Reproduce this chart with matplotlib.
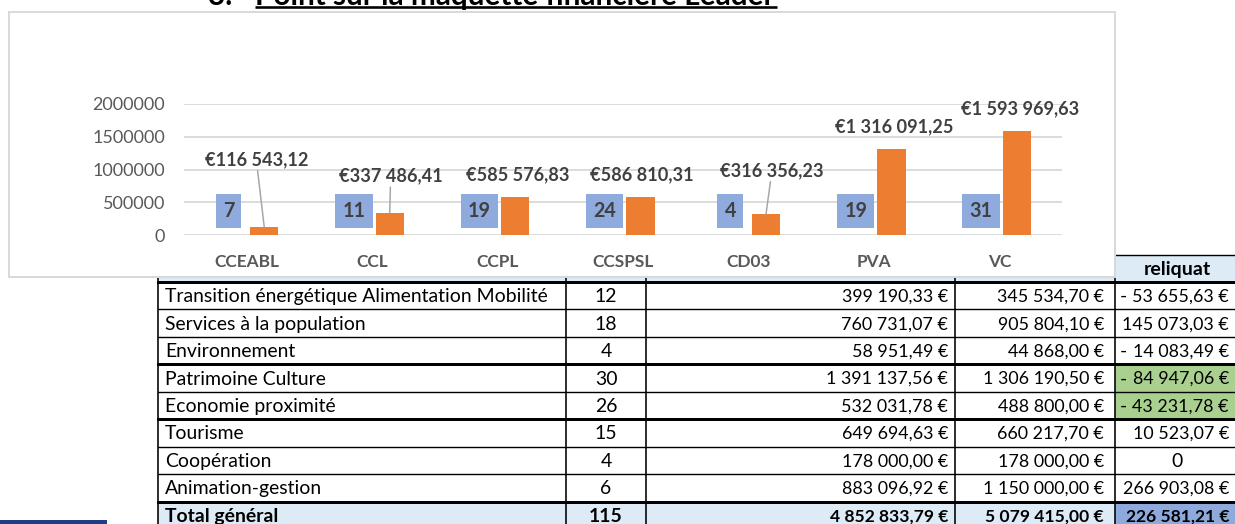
import matplotlib
matplotlib.use("Agg")
import matplotlib.pyplot as plt
from matplotlib.patches import Rectangle
import numpy as np

# ---------------- data ----------------
communautes = ["CCEABL", "CCL", "CCPL", "CCSPSL", "CD03", "PVA", "VC"]
nb_projets = [7, 11, 19, 24, 4, 19, 31]
montants = [116543.12, 337486.41, 585576.83, 586810.31, 316356.23, 1316091.25, 1593969.63]
y_ticks = [0, 500000, 1000000, 1500000, 2000000]

themes = ["Transition énergétique Alimentation Mobilité", "Services à la population",
          "Environnement", "Patrimoine Culture", "Economie proximité", "Tourisme",
          "Coopération", "Animation-gestion"]
nb_dossiers = [12, 18, 4, 30, 26, 15, 4, 6]
montant_programme = [399190.33, 760731.07, 58951.49, 1391137.56, 532031.78,
                     649694.63, 178000.00, 883096.92]
maquette = [345534.70, 905804.10, 44868.00, 1306190.50, 488800.00,
            660217.70, 178000.00, 1150000.00]
reliquat = [-53655.63, 145073.03, -14083.49, -84947.06, -43231.78,
            10523.07, 0, 266903.08]
total_label = "Total général"
total_nb = 115
total_programme = 4852833.79
total_maquette = 5079415.00
total_reliquat = 226581.21
header_reliquat = "reliquat"
title_num = "3."
title_text = "Point sur la maquette financière Leader"

# ---------------- style ----------------
plt.rcParams['font.family'] = ['Lato', 'DejaVu Sans']
W, H = 1235, 524
PX = 0.72  # points per pixel at 100 dpi

fig = plt.figure(figsize=(W / 100, H / 100), dpi=100)
renderer = fig.canvas.get_renderer()


def fit_size(text, target_px, **kw):
    t = fig.text(0, 0, text, fontsize=10, **kw)
    w = t.get_window_extent(renderer=renderer).width
    t.remove()
    return 10 * target_px / w


def fr(v):
    s = f"{v:,.2f}".replace(",", " ").replace(".", ",")
    return s + " €"


bg = fig.add_axes([0, 0, 1, 1])
bg.set_xlim(0, W)
bg.set_ylim(H, 0)
bg.axis('off')

# ---------------- title (cut at top) ----------------
fs_title = fit_size(title_text, 522, fontweight='bold')
bg.text(255, 5, title_text, fontsize=fs_title, fontweight='bold', va='baseline',
        ha='left', color='black')
bg.text(208, 5, title_num, fontsize=fs_title, fontweight='bold', va='baseline',
        ha='left', color='black')
bg.plot([255, 777], [7.3, 7.3], color='black', lw=2.6 * PX, solid_capstyle='butt')

# ---------------- table ----------------
col_edges = [158, 566, 646, 955, 1115, 1240]
header_top = 255
row_top = 282
row_h = 27.45
n_rows = len(themes) + 1
row_edges = [row_top + i * row_h for i in range(n_rows + 1)]
light_blue = '#DDEBF7'
green = '#A9D08E'
blue_total = '#8EA9DB'

bg.add_patch(Rectangle((col_edges[0], header_top), col_edges[-1] - col_edges[0],
                       row_top - header_top, fc=light_blue, ec='none', zorder=1))
tot_y = row_edges[-2]
bg.add_patch(Rectangle((col_edges[0], tot_y), col_edges[-1] - col_edges[0],
                       row_h, fc=light_blue, ec='none', zorder=1))
bg.add_patch(Rectangle((col_edges[4], tot_y), col_edges[5] - col_edges[4],
                       row_h, fc=blue_total, ec='none', zorder=1.1))
for i in (3, 4):
    bg.add_patch(Rectangle((col_edges[4], row_edges[i]), col_edges[5] - col_edges[4],
                           row_h, fc=green, ec='none', zorder=1.1))

thick_rows = {0, 3, 5, 8}
bg.plot([col_edges[0], col_edges[-1]], [header_top] * 2, color='black', lw=1.4 * PX, zorder=2)
for i, y in enumerate(row_edges[:-1]):
    lw = 3.0 if i in thick_rows else 1.4
    bg.plot([col_edges[0], col_edges[-1]], [y, y], color='black', lw=lw * PX, zorder=2)
for x in col_edges:
    bg.plot([x, x], [header_top, H + 10], color='black', lw=1.6 * PX, zorder=2)

fs_tab = fit_size(themes[0], 385)
fs_num = fit_size("399 190,33 €", 106)
fs_num_b = fit_size("4 852 833,79 €", 118, fontweight='bold')
for i in range(len(themes)):
    yc = row_edges[i] + row_h / 2 + 1
    bg.text(col_edges[0] + 7, yc, themes[i], fontsize=fs_tab, va='center', ha='left', zorder=3)
    bg.text((col_edges[1] + col_edges[2]) / 2, yc, str(nb_dossiers[i]), fontsize=fs_tab,
            va='center', ha='center', zorder=3)
    bg.text(col_edges[3] - 7, yc, fr(montant_programme[i]), fontsize=fs_num,
            va='center', ha='right', zorder=3)
    bg.text(col_edges[4] - 11, yc, fr(maquette[i]), fontsize=fs_num,
            va='center', ha='right', zorder=3)
    r = reliquat[i]
    if r == 0:
        bg.text((col_edges[4] + col_edges[5]) / 2, yc, "0", fontsize=fs_tab,
                va='center', ha='center', zorder=3)
    else:
        if r < 0:
            bg.text(col_edges[4] + 5, yc, "-", fontsize=fs_tab, va='center', ha='left', zorder=3)
        bg.text(col_edges[5] - 11, yc, fr(abs(r)), fontsize=fs_num,
                va='center', ha='right', zorder=3)

yc = tot_y + row_h / 2 + 1
bkw = dict(fontweight='bold', va='center', zorder=3)
bg.text(col_edges[0] + 7, yc, total_label, ha='left', fontsize=fs_tab, **bkw)
bg.text((col_edges[1] + col_edges[2]) / 2, yc, str(total_nb), ha='center', fontsize=fs_tab, **bkw)
bg.text(col_edges[3] - 7, yc, fr(total_programme), ha='right', fontsize=fs_num_b, **bkw)
bg.text(col_edges[4] - 11, yc, fr(total_maquette), ha='right', fontsize=fs_num_b, **bkw)
bg.text(col_edges[5] - 11, yc, fr(total_reliquat), ha='right', fontsize=fs_num_b, **bkw)
bg.text((col_edges[4] + col_edges[5]) / 2, (header_top + row_top) / 2 + 1, header_reliquat,
        ha='center', fontsize=fit_size(header_reliquat, 67, fontweight='bold'), **bkw)

# navy strip bottom-left
bg.add_patch(Rectangle((0, 520), 107, 6, fc='#1F3C88', ec='none', zorder=1))

# ---------------- chart frame ----------------
bg.add_patch(Rectangle((9, 12), 1106, 265, fc='white', ec='#D9D9D9', lw=2 * PX, zorder=5))

# ---------------- chart ----------------
ax = fig.add_axes([184 / W, 1 - 235 / H, (1062 - 184) / W, (235 - 104) / H])
ax.patch.set_alpha(0)
ax.set_xlim(-0.5, len(communautes) - 0.5)
ax.set_ylim(0, y_ticks[-1])
for s in ax.spines.values():
    s.set_visible(False)
ax.set_yticks(y_ticks)
ax.set_yticklabels([str(v) for v in y_ticks])
ax.yaxis.grid(True, color='#D9D9D9', lw=1.8 * PX)
ax.set_axisbelow(True)
x = np.arange(len(communautes))
ax.set_xticks(x)
ax.set_xticklabels(communautes)

fs_ytick = fit_size("2000000", 73)
fs_xtick = fit_size("CCEABL", 65, fontweight='bold')
ax.tick_params(axis='y', length=0, pad=19 * PX, labelsize=fs_ytick, labelcolor='#595959')
ax.tick_params(axis='x', length=0, pad=19 * PX, labelsize=fs_xtick, labelcolor='#595959')
for t in ax.get_xticklabels():
    t.set_fontweight('bold')

off = 0.14
bw = 0.225
ax.bar(x - off, nb_projets, width=bw, color='#8FAADC')
ax.bar(x + off, montants, width=bw, color='#ED7D31', zorder=3)

fs_box = fit_size("19", 23, fontweight='bold')
for xi, n in zip(x, nb_projets):
    ax.text(xi - off - 0.005, 0.185, str(n), transform=ax.get_xaxis_transform(),
            ha='center', va='center', fontsize=fs_box, fontweight='bold', color='#404040',
            bbox=dict(boxstyle='square,pad=0.36', fc='#8FAADC', ec='none'), zorder=4)

fs_lab = fit_size("€116 543,12", 103, fontweight='bold')
label_offsets = [(-8, 68), (1, 37), (3, 22), (1, 22), (6, 44), (3, 22), (3, 22)]
leader = [True, True, False, False, True, False, False]
for xi, v, (dx, dy), ld in zip(x, montants, label_offsets, leader):
    txt = "€" + f"{v:,.2f}".replace(",", " ").replace(".", ",")
    kw = {}
    if ld:
        kw['arrowprops'] = dict(arrowstyle='-', color='#A6A6A6', lw=1.5 * PX,
                                shrinkA=0, shrinkB=0)
    ax.annotate(txt, xy=(xi + off, v), xytext=(dx * PX, dy * PX), textcoords='offset points',
                ha='center', va='center', fontsize=fs_lab, fontweight='bold',
                color='#404040', zorder=5, **kw)

fig.savefig("out.png", dpi=100)
